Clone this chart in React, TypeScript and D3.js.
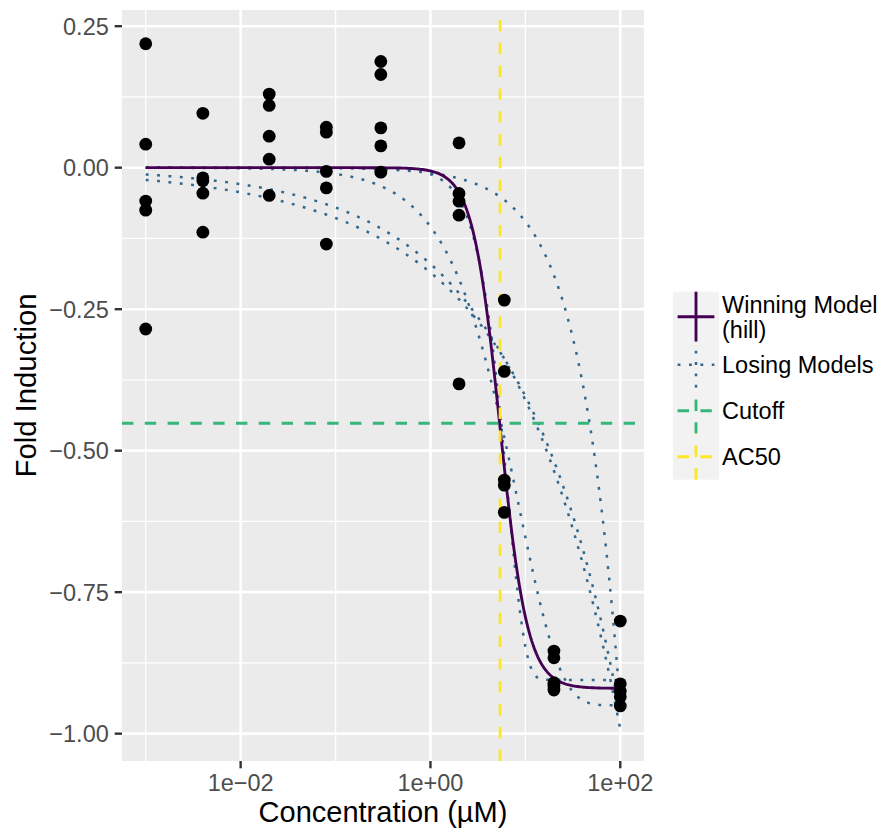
import React from 'react';
import * as d3 from 'd3';

// ---- data ----
const concentrations = [0.001, 0.004, 0.02, 0.08, 0.3, 2, 6, 20, 100];
const responses: number[][] = [
  [0.219, 0.0415, -0.059, -0.075, -0.285],
  [0.096, -0.018, -0.023, -0.045, -0.114],
  [0.13, 0.11, 0.0556, 0.015, -0.049],
  [0.0715, 0.0627, -0.0065, -0.0357, -0.135],
  [0.1876, 0.1646, 0.0703, 0.0385, -0.008],
  [0.0438, -0.0456, -0.0592, -0.0839, -0.382],
  [-0.234, -0.36, -0.552, -0.561, -0.609],
  [-0.854, -0.866, -0.91, -0.916, -0.923],
  [-0.801, -0.912, -0.925, -0.935, -0.951],
];

// fitted model parameters (tcplfit2-style)
const hillParams = [-0.92, 5.42, 3]; // tp, ga, p   (winning)
const powParams = [-0.17, 0.383]; // a, p
const exp3Params = [-1, 368, 0.3]; // a, b, p
const exp4Params = [-0.95, 5.97]; // tp, ga
const exp5Params = [-0.905, 5.55, 2.33]; // tp, ga, p
const poly1Params = [-0.0095]; // a

const cutoffValue = -0.4516;
const ac50Value = 5.42;

const xTicks = [1e-2, 1, 1e2];
const xTickLabels = ['1e\u221202', '1e+00', '1e+02'];
const xMinorTicks = [1e-3, 1e-1, 1e1];
const yTicks = [0.25, 0, -0.25, -0.5, -0.75, -1];
const yTickLabels = ['0.25', '0.00', '\u22120.25', '\u22120.50', '\u22120.75', '\u22121.00'];
const yMinorTicks = [0.125, -0.125, -0.375, -0.625, -0.875];

const legendLabels = [['Winning Model', '(hill)'], ['Losing Models'], ['Cutoff'], ['AC50']];

// ---- models ----
const hill = (x: number) => hillParams[0] / (1 + Math.pow(hillParams[1] / x, hillParams[2]));
const pow = (x: number) => powParams[0] * Math.pow(x, powParams[1]);
const exp3 = (x: number) => exp3Params[0] * (Math.exp(Math.pow(x / exp3Params[1], exp3Params[2])) - 1);
const exp4 = (x: number) => exp4Params[0] * (1 - Math.pow(2, -x / exp4Params[1]));
const exp5 = (x: number) => exp5Params[0] * (1 - Math.pow(2, -Math.pow(x / exp5Params[1], exp5Params[2])));
const poly1 = (x: number) => poly1Params[0] * x;
const losingModels = [pow, exp3, exp4, exp5, poly1];

const FONT = 'Liberation Sans, Arial, Helvetica, sans-serif';
const C_WIN = '#440154';
const C_LOSE = '#31688E';
const C_CUT = '#35B779';
const C_AC50 = '#FDE725';
const LW = 2.85;

export default function App() {
  const left = 122, right = 644, top = 10, bottom = 761;
  const x = d3.scaleLog().domain([Math.pow(10, -3.25), Math.pow(10, 2.25)]).range([left, right]);
  const y = d3.scaleLinear().domain([-1.0483, 0.2786]).range([bottom, top]);

  const grid = d3.range(0, 301).map((i) => Math.pow(10, -3 + (5 * i) / 300));
  const curvePath = (f: (v: number) => number) =>
    d3
      .line<number>()
      .x((c) => x(c))
      .y((c) => y(f(c)))(grid) as string;

  const points: { c: number; r: number }[] = [];
  concentrations.forEach((c, i) => responses[i].forEach((r) => points.push({ c, r })));

  // legend layout
  const keyX0 = 673, keyW = 46;
  const keyHeights = [50, 46, 46, 46];
  let acc = 291.7;
  const keyTops = keyHeights.map((h) => {
    const t = acc;
    acc += h;
    return t;
  });
  const legendStyles = [
    { color: C_WIN, dash: undefined as string | undefined },
    { color: C_LOSE, dash: '2.85 8.55' },
    { color: C_CUT, dash: '11.4 11.4' },
    { color: C_AC50, dash: '11.4 11.4' },
  ];

  return (
    <svg
      width={881}
      height={831}
      style={{ position: 'absolute', left: 0, top: 0, background: '#ffffff' }}
      fontFamily={FONT}
    >
      <rect x={0} y={0} width={881} height={831} fill="#ffffff" />
      {/* panel */}
      <rect x={left} y={top} width={right - left} height={bottom - top} fill="#EBEBEB" />
      {yMinorTicks.map((t) => (
        <line key={'ym' + t} x1={left} x2={right} y1={y(t)} y2={y(t)} stroke="#fff" strokeWidth={1.3} />
      ))}
      {xMinorTicks.map((t) => (
        <line key={'xm' + t} x1={x(t)} x2={x(t)} y1={top} y2={bottom} stroke="#fff" strokeWidth={1.3} />
      ))}
      {yTicks.map((t) => (
        <line key={'yM' + t} x1={left} x2={right} y1={y(t)} y2={y(t)} stroke="#fff" strokeWidth={2.6} />
      ))}
      {xTicks.map((t) => (
        <line key={'xM' + t} x1={x(t)} x2={x(t)} y1={top} y2={bottom} stroke="#fff" strokeWidth={2.6} />
      ))}

      <clipPath id="panelClip">
        <rect x={left} y={top} width={right - left} height={bottom - top} />
      </clipPath>
      <g clipPath="url(#panelClip)">
        {/* losing models */}
        {losingModels.map((f, i) => (
          <path
            key={'lose' + i}
            d={curvePath(f)}
            fill="none"
            stroke={C_LOSE}
            strokeWidth={2.5}
            strokeDasharray="2.85 8.55"
          />
        ))}
        {/* winning model */}
        <path d={curvePath(hill)} fill="none" stroke={C_WIN} strokeWidth={LW} />
        {/* cutoff */}
        <line
          x1={left}
          x2={right}
          y1={y(cutoffValue)}
          y2={y(cutoffValue)}
          stroke={C_CUT}
          strokeWidth={LW}
          strokeDasharray="11.4 11.4"
        />
        {/* AC50 */}
        <line
          x1={x(ac50Value)}
          x2={x(ac50Value)}
          y1={bottom}
          y2={top}
          stroke={C_AC50}
          strokeWidth={LW}
          strokeDasharray="11.4 11.4"
        />
        {/* points */}
        {points.map((p, i) => (
          <circle key={'pt' + i} cx={x(p.c)} cy={y(p.r)} r={6.4} fill="#000" />
        ))}
      </g>

      {/* y axis */}
      {yTicks.map((t, i) => (
        <g key={'yt' + t}>
          <line x1={left - 7.3} x2={left} y1={y(t)} y2={y(t)} stroke="#333333" strokeWidth={2.4} />
          <text x={left - 13.2} y={y(t) + 8.4} textAnchor="end" fontSize={23.5} fill="#4D4D4D">
            {yTickLabels[i]}
          </text>
        </g>
      ))}
      {/* x axis */}
      {xTicks.map((t, i) => (
        <g key={'xt' + t}>
          <line x1={x(t)} x2={x(t)} y1={bottom} y2={bottom + 7.3} stroke="#333333" strokeWidth={2.4} />
          <text x={x(t)} y={bottom + 30} textAnchor="middle" fontSize={23.5} fill="#4D4D4D">
            {xTickLabels[i]}
          </text>
        </g>
      ))}

      {/* axis titles */}
      <text x={(left + right) / 2} y={822} textAnchor="middle" fontSize={29} fill="#000">
        Concentration (µM)
      </text>
      <text
        transform={`translate(36, ${(top + bottom) / 2}) rotate(-90)`}
        textAnchor="middle"
        fontSize={29.3}
        fill="#000"
      >
        Fold Induction
      </text>

      {/* legend */}
      {legendLabels.map((lab, i) => {
        const t = keyTops[i];
        const h = keyHeights[i];
        const cy = t + h / 2;
        const cx = keyX0 + keyW / 2;
        const st = legendStyles[i];
        const lineH = 25;
        const firstBase = cy - ((lab.length - 1) * lineH) / 2 + 8.4;
        return (
          <g key={'leg' + i}>
            <rect x={keyX0} y={t} width={keyW} height={h} fill="#F2F2F2" />
            <line
              x1={keyX0 + keyW * 0.1}
              x2={keyX0 + keyW * 0.9}
              y1={cy}
              y2={cy}
              stroke={st.color}
              strokeWidth={i === 1 ? 2.5 : LW}
              strokeDasharray={st.dash}
            />
            <line
              x1={cx}
              x2={cx}
              y1={t + h}
              y2={t}
              stroke={st.color}
              strokeWidth={i === 1 ? 2.5 : LW}
              strokeDasharray={st.dash}
            />
            {lab.map((s, j) => (
              <text key={j} x={722} y={firstBase + j * lineH} fontSize={23.5} fill="#000">
                {s}
              </text>
            ))}
          </g>
        );
      })}
    </svg>
  );
}
